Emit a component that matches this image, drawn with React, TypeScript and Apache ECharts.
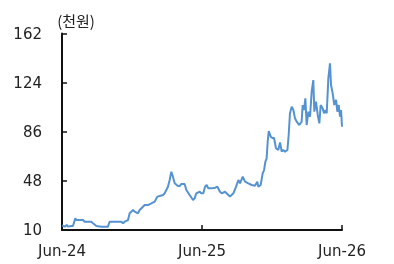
import React, { useEffect, useRef } from "react";
import * as echarts from "echarts";

// months since Jun-24
const months = [
  0, 0.23, 0.4, 0.51, 0.8, 0.94, 1.14, 1.23, 1.8, 1.94, 2.51, 2.66, 2.94, 3.37, 3.94,
  4.08, 4.23, 5.09, 5.23, 5.37, 5.66, 5.8, 6.09, 6.23, 6.51, 6.66, 6.94, 7.08, 7.37,
  7.66, 7.94, 8.17, 8.37, 8.66, 8.8, 8.94, 9.08, 9.23, 9.37, 9.51, 9.66, 9.94, 10.08,
  10.23, 10.51, 10.66, 10.94, 11.23, 11.37, 11.51, 11.8, 11.94, 12.11, 12.26, 12.4,
  12.54, 12.83, 13.12, 13.32, 13.54, 13.69, 13.97, 14.26, 14.4, 14.69, 14.92, 15.12,
  15.26, 15.49, 15.69, 15.97, 16.26, 16.54, 16.74, 16.83, 17.03, 17.2, 17.32, 17.43,
  17.54, 17.63, 17.72, 17.89, 18.06, 18.17, 18.34, 18.54, 18.69, 18.83, 18.97, 19.12,
  19.32, 19.43, 19.54, 19.69, 19.83, 19.97, 20.12, 20.34, 20.54, 20.63, 20.74, 20.86,
  20.97, 21.12, 21.26, 21.4, 21.54, 21.63, 21.77, 21.92, 22.06, 22.17, 22.34, 22.46,
  22.57, 22.69, 22.83, 22.97, 23.06, 23.2, 23.34, 23.49, 23.6, 23.72, 23.83, 23.92, 24.0,
];

// price (천원)
const prices = [
  13.5, 12.6, 13.9, 12.6, 13.1, 13.1, 19.0, 17.7, 17.7, 16.4, 16.4, 15.2, 13.1, 12.6, 12.6,
  16.4, 16.4, 16.4, 15.2, 16.4, 17.7, 22.9, 25.5, 24.2, 22.9, 25.5, 28.0, 29.3, 29.3,
  30.6, 31.9, 35.8, 36.3, 37.1, 38.4, 40.9, 43.5, 48.7, 55.1, 51.2, 46.1, 44.0, 44.0,
  45.6, 45.6, 40.9, 37.1, 33.2, 34.5, 38.4, 39.6, 38.4, 38.4, 43.5, 44.8,
  42.2, 42.2, 42.7, 43.5, 39.6, 38.4, 39.6, 37.1, 35.8, 38.4, 43.5, 48.7,
  46.1, 51.2, 47.4, 46.1, 44.8, 44.3, 47.4, 43.5, 44.8, 53.8, 56.4, 62.8,
  65.4, 78.3, 86.6, 82.2, 80.9, 81.5, 73.2, 71.9, 77.8, 70.6, 71.9, 70.6,
  71.9, 83.5, 100.3, 105.4, 102.8, 96.4, 93.8, 91.2, 93.8, 106.7, 102.8, 111.9,
  91.2, 101.5, 97.6, 117.0, 126.0, 101.5, 109.3, 99.0, 92.5, 106.7, 104.1, 100.3,
  102.8, 100.3, 127.3, 138.9, 122.2, 115.7, 106.7, 110.6, 101.5, 106.7, 97.6, 102.8, 89.9,
];

const yTicks = [10, 48, 86, 124, 162];
const xTicks = [0, 12, 24];
const xTickLabels = ["Jun-24", "Jun-25", "Jun-26"];
const unitLabel = "(천원)";

export default function App() {
  const ref = useRef<HTMLDivElement>(null);
  useEffect(() => {
    if (!ref.current) return;
    const chart = echarts.init(ref.current, null, { renderer: "svg" });
    const font = "'DejaVu Sans', 'Noto Sans CJK KR', sans-serif";
    chart.setOption({
      animation: false,
      grid: { left: 62, right: 52, top: 33.5, bottom: 34 },
      graphic: [
        {
          type: "text",
          x: 76,
          y: 20,
          style: {
            text: unitLabel,
            font: "15px 'Noto Sans CJK KR', sans-serif",
            fill: "#222",
            textAlign: "center",
            textVerticalAlign: "middle",
          },
        },
      ],
      xAxis: {
        type: "value",
        min: 0,
        max: 24,
        splitLine: { show: false },
        axisLine: { show: true, lineStyle: { color: "#111", width: 2 } },
        axisTick: {
          show: true,
          inside: true,
          length: 5,
          customValues: xTicks,
          lineStyle: { color: "#111", width: 1.5 },
        },
        axisLabel: {
          customValues: xTicks,
          formatter: (v: number) => xTickLabels[xTicks.indexOf(v)] ?? "",
          margin: 13,
          fontSize: 15,
          fontFamily: font,
          color: "#222",
        },
      },
      yAxis: {
        type: "value",
        min: 10,
        max: 162,
        splitLine: { show: false },
        axisLine: { show: true, lineStyle: { color: "#111", width: 2 } },
        axisTick: {
          show: true,
          inside: true,
          length: 5,
          customValues: yTicks,
          lineStyle: { color: "#111", width: 1.5 },
        },
        axisLabel: {
          customValues: yTicks,
          margin: 20,
          fontSize: 15,
          fontFamily: font,
          color: "#222",
        },
      },
      series: [
        {
          type: "line",
          data: months.map((m, i) => [m, prices[i]]),
          showSymbol: false,
          symbol: "none",
          lineStyle: { color: "#5592d2", width: 2 },
          z: 1,
        },
      ],
    });
    return () => chart.dispose();
  }, []);
  return (
    <div
      ref={ref}
      style={{ position: "fixed", left: 0, top: 0, width: 394, height: 264 }}
    />
  );
}
